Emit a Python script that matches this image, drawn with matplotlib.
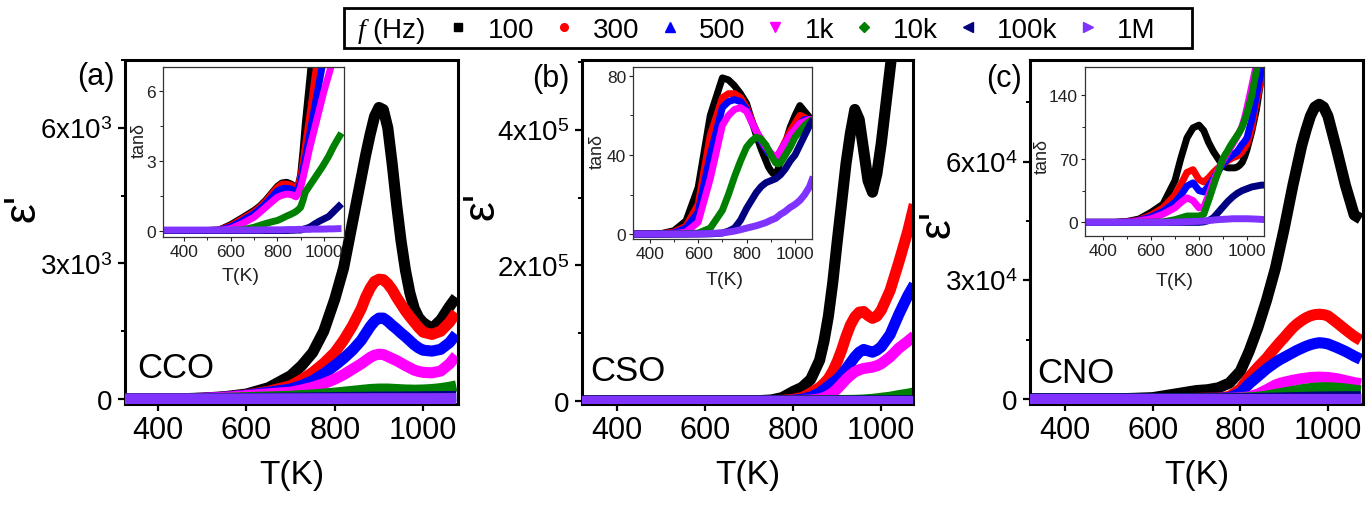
import matplotlib
matplotlib.use("Agg")
import matplotlib.pyplot as plt
from matplotlib.lines import Line2D
from matplotlib.patches import Rectangle
from matplotlib.ticker import MultipleLocator

plt.rcParams['font.family'] = ['Liberation Sans', 'DejaVu Sans']
plt.rcParams['mathtext.fontset'] = 'custom'
plt.rcParams['mathtext.rm'] = 'Liberation Sans'
plt.rcParams['mathtext.it'] = 'Liberation Serif:italic'

# ---------------- data ----------------
freq_labels = ['100', '300', '500', '1k', '10k', '100k', '1M']
colors = ['#000000', '#ff0000', '#0000ff', '#ff00ff', '#008000', '#000080', '#8033ff']
markers = ['s', 'o', '^', 'v', 'D', '<', '>']

temp_K = [310, 360, 400, 450, 500, 550, 600, 650, 700, 725, 750, 775, 800, 820, 840,
          860, 870, 880, 890, 900, 910, 920, 930, 940, 950, 960, 970, 980, 990, 1000,
          1020, 1040, 1060, 1075]

# (a) CCO  epsilon'
a_eps_100 = [0, 0, 0, 5, 20, 50, 110, 250, 515, 740, 1030, 1500, 2210, 2900, 3900, 4900, 5400, 5850, 6250, 6450, 6400, 6000, 5200, 4300, 3500, 2850, 2350, 2000, 1800, 1690, 1560, 1750, 2050, 2250]
a_eps_300 = [0, 0, 0, 3, 15, 40, 90, 170, 295, 430, 590, 790, 1030, 1300, 1620, 2000, 2250, 2450, 2600, 2650, 2640, 2550, 2420, 2250, 2100, 1950, 1820, 1700, 1580, 1480, 1430, 1500, 1700, 1910]
a_eps_500 = [0, 0, 0, 3, 15, 40, 85, 150, 220, 300, 405, 560, 740, 900, 1080, 1300, 1450, 1600, 1720, 1790, 1790, 1720, 1630, 1550, 1460, 1380, 1290, 1200, 1130, 1080, 1060, 1100, 1250, 1435]
a_eps_1k = [0, 0, 0, 2, 12, 35, 75, 115, 150, 200, 260, 340, 440, 540, 660, 780, 850, 920, 970, 990, 985, 940, 895, 850, 795, 740, 690, 640, 610, 590, 580, 620, 780, 960]
a_eps_10k = [0, 0, 0, 0, 5, 15, 30, 45, 60, 75, 90, 110, 130, 150, 170, 190, 200, 210, 215, 220, 220, 220, 215, 210, 205, 200, 198, 195, 197, 200, 210, 230, 260, 290]
a_eps_100k = [0, 0, 0, 0, 0, 5, 10, 15, 20, 22, 25, 28, 30, 32, 35, 37, 38, 40, 41, 42, 42, 43, 43, 44, 44, 45, 45, 46, 47, 48, 50, 52, 55, 58]
a_eps_1M = [0, 0, 0, 0, 0, 0, 2, 3, 4, 4, 5, 5, 5, 6, 6, 6, 6, 7, 7, 7, 7, 7, 7, 7, 8, 8, 8, 8, 8, 8, 8, 9, 9, 10]

# (a) CCO  tan(delta)
a_tan_100 = [0, 0, 0, 0, 0, 0.02, 0.25, 0.55, 0.86, 1.05, 1.3, 1.6, 1.9, 2.05, 2.08, 2.0, 1.92, 1.85, 1.95, 2.4, 3.4, 4.6, 5.6, 6.6, 7.7, 8.8, 9.9, 11, 12, 13, 15, 17, 19, 20]
a_tan_300 = [0, 0, 0, 0, 0, 0.02, 0.2, 0.5, 0.8, 1.0, 1.25, 1.55, 1.85, 2.0, 2.0, 1.95, 1.88, 1.8, 1.95, 2.3, 2.9, 3.6, 4.3, 5.0, 5.7, 6.5, 7.2, 8.0, 8.7, 9.5, 11, 12.5, 14, 15]
a_tan_500 = [0, 0, 0, 0, 0, 0.01, 0.15, 0.42, 0.72, 0.92, 1.15, 1.42, 1.7, 1.8, 1.82, 1.78, 1.72, 1.65, 1.8, 2.1, 2.6, 3.1, 3.65, 4.2, 4.75, 5.3, 5.85, 6.4, 6.95, 7.5, 8.6, 9.6, 10.6, 11.4]
a_tan_1k = [0, 0, 0, 0, 0, 0, 0.08, 0.3, 0.57, 0.78, 1.0, 1.22, 1.43, 1.52, 1.57, 1.55, 1.5, 1.45, 1.6, 1.85, 2.25, 2.7, 3.15, 3.6, 4.0, 4.4, 4.8, 5.2, 5.6, 6.0, 6.7, 7.4, 8.1, 8.6]
a_tan_10k = [0, 0, 0, 0, 0, 0, 0, 0.03, 0.14, 0.22, 0.3, 0.37, 0.43, 0.52, 0.62, 0.71, 0.76, 0.82, 0.9, 1.0, 1.3, 1.65, 1.8, 1.95, 2.1, 2.25, 2.4, 2.55, 2.7, 2.86, 3.2, 3.6, 3.95, 4.2]
a_tan_100k = [0, 0, 0, 0, 0, 0, 0, 0, 0, 0, 0, 0, 0, 0, 0, 0.01, 0.01, 0.02, 0.02, 0.02, 0.05, 0.08, 0.11, 0.15, 0.21, 0.28, 0.34, 0.4, 0.45, 0.5, 0.6, 0.8, 1.0, 1.15]
a_tan_1M = [0.02, 0.02, 0.02, 0.02, 0.02, 0.02, 0.02, 0.02, 0.02, 0.02, 0.03, 0.03, 0.03, 0.03, 0.04, 0.04, 0.04, 0.04, 0.05, 0.05, 0.05, 0.05, 0.05, 0.05, 0.06, 0.06, 0.06, 0.06, 0.06, 0.06, 0.07, 0.07, 0.08, 0.08]

# (b) CSO  epsilon'
b_eps_100 = [0, 0, 0, 0, 0, 0, 0, 100, 300, 600, 1500, 5000, 14000, 20000, 32000, 60000, 88000, 125000, 175000, 235000, 292000, 350000, 395000, 430000, 415000, 370000, 325000, 308000, 335000, 380000, 490000, 600000, 700000, 780000]
b_eps_300 = [0, 0, 0, 0, 0, 0, 0, 0, 100, 200, 400, 1000, 2500, 5000, 12000, 20000, 26000, 33000, 44000, 58000, 75000, 95000, 112000, 124000, 131000, 132000, 126000, 122000, 125000, 134000, 163000, 205000, 250000, 290000]
b_eps_500 = [0, 0, 0, 0, 0, 0, 0, 0, 50, 100, 200, 500, 1200, 2500, 6000, 12000, 17000, 22000, 27000, 32000, 39000, 47000, 56000, 65000, 72000, 76000, 74000, 72000, 75000, 80000, 98000, 128000, 155000, 172000]
b_eps_1k = [0, 0, 0, 0, 0, 0, 0, 0, 0, 50, 100, 200, 400, 800, 1500, 3000, 5000, 8000, 12000, 18000, 25000, 32000, 38000, 43000, 46000, 48000, 49000, 50000, 52000, 55000, 65000, 78000, 88000, 96000]
b_eps_10k = [0, 0, 0, 0, 0, 0, 0, 0, 0, 0, 0, 0, 0, 100, 200, 300, 350, 400, 500, 600, 700, 800, 900, 1000, 1200, 1500, 2000, 2500, 3200, 4000, 5500, 8000, 10000, 12000]
b_eps_100k = [0, 0, 0, 0, 0, 0, 0, 0, 0, 0, 0, 0, 0, 0, 0, 0, 0, 0, 0, 0, 0, 0, 0, 50, 70, 100, 120, 150, 180, 200, 250, 300, 350, 400]
b_eps_1M = [0, 0, 0, 0, 0, 0, 0, 0, 0, 0, 0, 0, 0, 0, 0, 0, 0, 0, 0, 0, 0, 0, 0, 0, 0, 0, 0, 0, 0, 0, 0, 0, 0, 0]

# (b) CSO  tan(delta)
b_tan_100 = [0, 0, 0, 0.3, 1.7, 6.7, 23.6, 60, 79, 78, 75, 71, 66, 58, 50, 43, 40, 37, 34, 32, 30.5, 30, 33, 37, 41, 45, 50, 54, 57, 60, 65, 62, 59, 57]
b_tan_300 = [0, 0, 0, 0.2, 1, 4, 15, 50, 69, 71, 71, 69, 64, 58, 52, 47, 45, 43, 41, 40, 39.3, 39, 40, 42, 44.5, 47, 49.5, 52, 54, 56, 60, 59, 57, 56]
b_tan_500 = [0, 0, 0, 0.1, 0.5, 3, 11, 40, 64, 67, 68, 67, 63, 57, 52, 47, 45, 43, 41, 40, 39.3, 39, 40, 42, 44, 46, 48, 50, 51.5, 53, 56, 58, 58, 58]
b_tan_1k = [0, 0, 0, 0, 0.2, 1, 6, 28, 55, 60, 63, 64, 62, 57, 52, 48, 46, 44, 42.5, 41, 40, 39, 40, 42, 44, 46, 48, 50, 51.5, 53, 56, 57, 58, 58]
b_tan_10k = [0, 0, 0, 0, 0, 0.1, 0.5, 3, 12, 20, 29, 37, 44, 47, 49, 48, 46.5, 45, 42.5, 40, 38, 36, 35.5, 36, 38, 40, 42, 44, 46.5, 49, 52, 55, 57, 58]
b_tan_100k = [0, 0, 0, 0, 0, 0, 0, 0.1, 0.5, 1.5, 3, 7, 13, 17, 21, 24, 25, 26, 26.5, 27, 27.5, 28, 29, 30, 31.5, 33, 35, 37, 38.5, 40, 45, 50, 55, 58]
b_tan_1M = [0, 0, 0, 0, 0, 0, 0.1, 0.3, 0.6, 1, 1.5, 2.2, 3, 3.6, 4.2, 5, 5.4, 5.8, 6.4, 7, 7.5, 8, 9, 10, 10.7, 11.5, 12.5, 13.5, 14.2, 15, 17, 20, 24, 29]

# (c) CNO  epsilon'
c_eps_100 = [0, 0, 0, 0, 0, 100, 300, 1200, 2100, 2300, 2800, 4000, 7000, 12000, 18000, 25000, 29000, 33000, 38000, 43000, 48500, 54000, 59000, 64000, 68000, 71500, 73800, 74500, 73800, 71500, 63000, 54000, 46500, 45500]
c_eps_300 = [0, 0, 0, 0, 0, 0, 0, 50, 100, 150, 200, 600, 2500, 5500, 8000, 10300, 11700, 13000, 14300, 15500, 16800, 18000, 19000, 19800, 20500, 21000, 21300, 21400, 21300, 21000, 19300, 17500, 15800, 14800]
c_eps_500 = [0, 0, 0, 0, 0, 0, 0, 30, 60, 100, 150, 300, 1500, 3800, 5700, 7600, 8400, 9200, 9900, 10500, 11100, 11700, 12300, 12800, 13300, 13700, 14000, 14200, 14100, 13900, 13000, 12000, 10800, 10000]
c_eps_1k = [0, 0, 0, 0, 0, 0, 0, 0, 30, 50, 80, 120, 300, 500, 1200, 2300, 2900, 3500, 3900, 4200, 4450, 4700, 4900, 5100, 5250, 5400, 5450, 5500, 5450, 5400, 5100, 4600, 4100, 3800]
c_eps_10k = [0, 0, 0, 0, 0, 0, 0, 0, 0, 0, 50, 80, 150, 250, 400, 700, 900, 1100, 1300, 1500, 1700, 1900, 2100, 2300, 2450, 2600, 2700, 2800, 2800, 2800, 2700, 2500, 2200, 2000]
c_eps_100k = [0, 0, 0, 0, 0, 0, 0, 0, 0, 0, 0, 20, 50, 80, 110, 150, 175, 200, 225, 250, 275, 300, 325, 350, 375, 400, 425, 450, 465, 480, 500, 520, 520, 520]
c_eps_1M = [0, 0, 0, 0, 0, 0, 0, 0, 0, 0, 0, 0, 0, 0, 0, 0, 0, 0, 0, 0, 0, 0, 0, 0, 0, 0, 0, 0, 0, 0, 0, 0, 0, 0]

# (c) CNO  tan(delta)
c_tan_100 = [0, 0, 0, 0, 1, 3.7, 11, 20, 46, 71, 93, 104, 107, 101, 88, 78, 74, 70, 66, 62, 61, 60, 60, 60, 60, 61, 63, 66, 72, 80, 100, 125, 160, 190]
c_tan_300 = [0, 0, 0, 0, 0.5, 2.5, 8, 16, 30, 42, 55, 58, 47, 44.5, 49, 55, 57.5, 60, 62, 64, 66, 68, 69.5, 71, 72, 73, 75, 78, 82, 86, 104, 134, 157, 180]
c_tan_500 = [0, 0, 0, 0, 0.3, 2, 6, 12, 22, 30, 40, 43.5, 35, 33.5, 40, 48, 52, 56, 60, 64, 67, 70, 72, 74, 76, 78, 82, 86, 89, 93, 113, 140, 168, 190]
c_tan_1k = [0, 0, 0, 0, 0.2, 1.5, 4, 9, 16, 22, 27, 24, 16, 17, 30, 45, 51, 57, 63, 68, 72.5, 77, 81.5, 86, 90.5, 95, 100, 106, 115, 126, 150, 175, 200, 220]
c_tan_10k = [0, 0, 0, 0, 0, 0, 0, 0.5, 3, 5, 7, 7, 7, 9, 24, 40, 48, 55, 63, 70, 75, 79, 84, 88, 92, 96, 100, 105, 112, 120, 140, 168, 195, 215]
c_tan_100k = [0, 0, 0, 0, 0, 0, 0, 0, 0, 0, 0, 0, 0, 0.5, 2, 5, 8, 11, 14, 17, 20, 23, 25.5, 28, 30, 32, 33.5, 35, 36, 37, 39, 40, 41, 41]
c_tan_1M = [0, 0, 0, 0, 0, 0, 0, 0, 0.3, 0.5, 0.8, 1, 1.2, 1.5, 2, 2.5, 2.8, 3, 3.2, 3.3, 3.5, 3.6, 3.8, 4, 4, 4, 4, 4, 4, 4, 3.8, 3.6, 3.3, 3]

main_series = [
    [a_eps_100, a_eps_300, a_eps_500, a_eps_1k, a_eps_10k, a_eps_100k, a_eps_1M],
    [b_eps_100, b_eps_300, b_eps_500, b_eps_1k, b_eps_10k, b_eps_100k, b_eps_1M],
    [c_eps_100, c_eps_300, c_eps_500, c_eps_1k, c_eps_10k, c_eps_100k, c_eps_1M],
]
inset_series = [
    [a_tan_100, a_tan_300, a_tan_500, a_tan_1k, a_tan_10k, a_tan_100k, a_tan_1M],
    [b_tan_100, b_tan_300, b_tan_500, b_tan_1k, b_tan_10k, b_tan_100k, b_tan_1M],
    [c_tan_100, c_tan_300, c_tan_500, c_tan_1k, c_tan_10k, c_tan_100k, c_tan_1M],
]
panel_tags = ['(a)', '(b)', '(c)']
samples = ['CCO', 'CSO', 'CNO']
main_yticks = [[0, 3000, 6000], [0, 200000, 400000], [0, 30000, 60000]]
main_yticklabels = [['0', r'3x10$^3$', r'6x10$^3$'],
                    ['0', r'2x10$^5$', r'4x10$^5$'],
                    ['0', r'3x10$^4$', r'6x10$^4$']]
main_yminor = [1500, 100000, 15000]
inset_yticks = [[0, 3, 6], [0, 40, 80], [0, 70, 140]]
inset_yminor = [1.5, 20, 35]
xticks = [400, 600, 800, 1000]

# ---------------- layout (figure pixels) ----------------
W, H = 1369, 506
fig = plt.figure(figsize=(W / 100, H / 100), dpi=100)

def px_rect(x0, y0, x1, y1):
    return [x0 / W, 1 - y1 / H, (x1 - x0) / W, (y1 - y0) / H]

main_rects = [(125, 61, 458, 405), (582, 61, 913, 405), (1030, 61, 1363, 405)]
main_xlim = [(325, 1079), (321, 1072), (320, 1080)]
main_ylim = [(-110, 7500), (-4400, 503000), (-1300, 85700)]
ylab_pos = [(-0.306, 0.573), (-0.302, 0.578), (-0.276, 0.526)]
sample_pos = [(0.036, 0.078), (0.024, 0.070), (0.021, 0.064)]
tag_pos = [(96, 77), (551, 79), (1004, 79)]

inset_rects = [(163, 68, 344, 238), (633, 68, 812, 240), (1085, 68, 1264, 237)]
inset_xlim = [(310, 1086), (331, 1070), (325, 1071)]
inset_ylim = [(-0.28, 7.05), (-2.5, 84.5), (-15, 171)]
inset_ylab = [(-0.133, 0.571), (-0.201, 0.517), (-0.24, 0.479)]
inset_xlab = [(0.43, -0.229), (0.514, -0.233), (0.503, -0.266)]

for i in range(3):
    ax = fig.add_axes(px_rect(*main_rects[i]))
    for k in range(7):
        ax.plot(temp_K, main_series[i][k], color=colors[k], lw=8,
                solid_joinstyle='round', solid_capstyle='butt', zorder=2 + k * 0.1)
    ax.set_xlim(*main_xlim[i])
    ax.set_ylim(*main_ylim[i])
    ax.set_xticks(xticks)
    ax.set_xticklabels([str(t) for t in xticks])
    ax.set_yticks(main_yticks[i])
    ax.set_yticklabels(main_yticklabels[i])
    ax.yaxis.set_minor_locator(MultipleLocator(main_yminor[i]))
    ax.tick_params(axis='x', which='major', direction='out', length=5, width=1.6,
                   labelsize=22, pad=3)
    ax.tick_params(axis='y', which='major', direction='out', length=5, width=1.6,
                   labelsize=20, pad=4)
    ax.tick_params(axis='y', which='minor', direction='out', length=3, width=1.4)
    for s in ax.spines.values():
        s.set_linewidth(2.2)
    ax.set_xlabel('T(K)', fontsize=24)
    ax.xaxis.set_label_coords(0.5, -0.205)
    ax.xaxis.label.set_va('center')
    ax.set_ylabel("ε'", fontsize=32)
    ax.yaxis.set_label_coords(*ylab_pos[i])
    ax.yaxis.label.set_va('center')
    ax.text(sample_pos[i][0], sample_pos[i][1], samples[i], transform=ax.transAxes,
            fontsize=25, va='baseline', ha='left')
    fig.text(tag_pos[i][0] / W, 1 - tag_pos[i][1] / H, panel_tags[i], fontsize=22,
             ha='center', va='center')

    ins = fig.add_axes(px_rect(*inset_rects[i]))
    ins.set_facecolor('white')
    for k in range(7):
        ins.plot(temp_K, inset_series[i][k], color=colors[k], lw=5,
                 solid_joinstyle='round', solid_capstyle='butt')
    ins.set_xlim(*inset_xlim[i])
    ins.set_ylim(*inset_ylim[i])
    ins.set_xticks(xticks)
    ins.set_yticks(inset_yticks[i])
    ins.xaxis.set_minor_locator(MultipleLocator(100))
    ins.yaxis.set_minor_locator(MultipleLocator(inset_yminor[i]))
    ins.tick_params(which='major', direction='out', length=3, width=0.8,
                    labelsize=12.5, pad=2, colors='#222222')
    ins.tick_params(which='minor', direction='out', length=2, width=0.7, colors='#222222')
    for s in ins.spines.values():
        s.set_linewidth(0.9)
        s.set_color('#333333')
    ins.set_xlabel('T(K)', fontsize=14, color='#222222')
    ins.xaxis.set_label_coords(*inset_xlab[i])
    ins.xaxis.label.set_va('center')
    ins.set_ylabel('tanδ', fontsize=13, color='#222222')
    ins.yaxis.set_label_coords(*inset_ylab[i])
    ins.yaxis.label.set_va('center')

# ---------------- legend ----------------
ms_list = [6, 5.5, 7, 7, 5.5, 7, 7]
handles = [Line2D([], [], ls='none', marker=markers[k], color=colors[k],
                  markersize=ms_list[k]) for k in range(7)]
fig.legend(handles, freq_labels, ncol=7, loc='center left',
           bbox_to_anchor=(450 / W, 1 - 31 / H), frameon=False, fontsize=20,
           handlelength=0.6, handletextpad=0.75, columnspacing=0.78,
           borderpad=0, borderaxespad=0)
fig.text(357 / W, 1 - 31 / H, r'$f$ (Hz)', fontsize=20, ha='left', va='center')
fig.add_artist(Rectangle((344 / W, 1 - 49 / H), (1192 - 344) / W, 40 / H,
                         transform=fig.transFigure, fill=False, lw=2, ec='black'))

fig.savefig('out.png', dpi=100)
